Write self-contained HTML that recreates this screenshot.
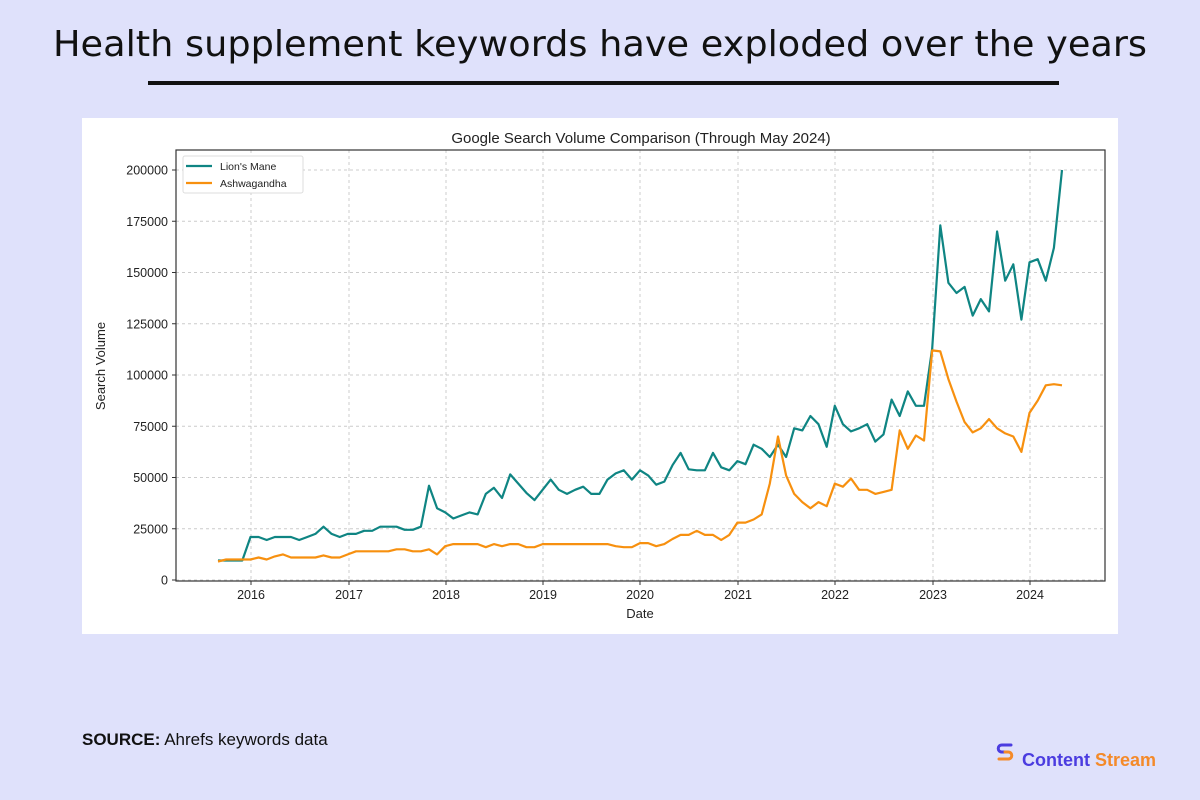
<!DOCTYPE html>
<html><head><meta charset="utf-8"><style>
html,body{margin:0;padding:0;background:#dfe1fb;}
svg{display:block}
text{font-family:"Liberation Sans","DejaVu Sans",sans-serif}
</style></head><body>
<svg id="s" width="1200" height="800" viewBox="0 0 1200 800" xmlns="http://www.w3.org/2000/svg">
<rect width="1200" height="800" fill="#dfe1fb"/>
<text x="600" y="56" text-anchor="middle" font-size="36" textLength="1094" lengthAdjust="spacingAndGlyphs" style="font-family:'DejaVu Sans',sans-serif" fill="#111">Health supplement keywords have exploded over the years</text>
<rect x="148" y="81" width="911" height="4" fill="#111"/>
<rect x="82" y="118" width="1036" height="516" fill="#fff"/>
<text x="641" y="143" text-anchor="middle" font-size="15" fill="#222">Google Search Volume Comparison (Through May 2024)</text>
<g id="grid" stroke="#ccc" stroke-dasharray="3,3" stroke-width="1"></g>
<rect x="176" y="150" width="929" height="431" fill="none" stroke="#333" stroke-width="1.2"/>
<g id="ticks" font-size="12.5" fill="#222"></g>
<text x="640" y="618" text-anchor="middle" font-size="13" fill="#222">Date</text>
<text transform="translate(105,366) rotate(-90)" text-anchor="middle" font-size="13" fill="#222">Search Volume</text>
<polyline id="lm" fill="none" stroke="#0f8583" stroke-width="2.2" stroke-linejoin="round"/>
<polyline id="as" fill="none" stroke="#f7900f" stroke-width="2.2" stroke-linejoin="round"/>
<rect x="183" y="156" width="120" height="37" fill="#fff" stroke="#ddd" rx="2"/>
<line x1="186" y1="166" x2="212" y2="166" stroke="#0f8583" stroke-width="2.2"/>
<line x1="186" y1="183" x2="212" y2="183" stroke="#f7900f" stroke-width="2.2"/>
<text x="220" y="170" font-size="10.5" fill="#222">Lion's Mane</text>
<text x="220" y="187" font-size="10.5" fill="#222">Ashwagandha</text>
<text x="82" y="745" font-size="17" fill="#111"><tspan font-weight="bold">SOURCE:</tspan> Ahrefs keywords data</text>
<g transform="translate(997,752)" fill="none" stroke-width="3" stroke-linecap="round">
<path d="M14,-7 L5,-7 C0,-7 0,0 5,0 L8,0" stroke="#4b3ce0"/>
<path d="M8,0 L11,0 C16,0 16,7 11,7 L2,7" stroke="#f48a2a"/>
</g>
<text x="1022" y="766" font-size="18" font-weight="bold" fill="#4b3ce0">Content <tspan fill="#f48a2a">Stream</tspan></text>
</svg>
<script>
var L=[9.5,9.5,9.5,9.5,21,21,19.5,21,21,21,19.5,21,22.5,26,22.5,21,22.5,22.5,24,24,26,26,26,24.5,24.5,26,46,35,33,30,31.5,33,32,42,45,40,51.5,47,42.5,39,44,49,44,42,44,45.5,42,42,49,52,53.5,49,53.5,51,46.5,48,56,62,54,53.5,53.5,62,55,53.5,58,56.5,66,64,60,66,60,74,73,80,76,65,85,76,72.5,74,76,67.5,71,88,80,92,85,85,113,173,145,140,143,129,137,131,170,146,154,127,155,156.5,146,162,200];
var A=[9,10,10,10,10,11,10,11.5,12.5,11,11,11,11,12,11,11,12.5,14,14,14,14,14,15,15,14,14,15,12.5,16.5,17.5,17.5,17.5,17.5,16,17.5,16.5,17.5,17.5,16,16,17.5,17.5,17.5,17.5,17.5,17.5,17.5,17.5,17.5,16.5,16,16,18,18,16.5,17.5,20,22,22,24,22,22,19.5,22,28,28,29.5,32,47,70,51,42,38,35,38,36,47,45.5,49.5,44,44,42,43,44,73,64,70.5,68,112,111.5,98,87,77,72,74,78.5,74,71.5,70,62.5,81.5,87.5,95,95.5,95];
function X(i){return 218+i*(1062-218)/104;}
function Y(v){return 580-v*410/200;}
function pts(a){return a.map(function(v,i){return X(i).toFixed(1)+","+Y(v).toFixed(1)}).join(" ");}
document.getElementById("lm").setAttribute("points",pts(L));
document.getElementById("as").setAttribute("points",pts(A));
var ns="http://www.w3.org/2000/svg",g=document.getElementById("grid"),t=document.getElementById("ticks");
function el(p,tag,at,txt){var e=document.createElementNS(ns,tag);for(var k in at)e.setAttribute(k,at[k]);if(txt)e.textContent=txt;p.appendChild(e);}
for(var k=0;k<=8;k++){var y=Y(k*25);el(g,"line",{x1:176,x2:1105,y1:y,y2:y});el(t,"line",{x1:172,x2:176,y1:y,y2:y,stroke:"#333"});el(t,"text",{x:168,y:y+4.5,"text-anchor":"end"},String(k*25000));}
var yx=[251,349,446,543,640,738,835,933,1030];
for(var k=0;k<9;k++){var x=yx[k];el(g,"line",{x1:x,x2:x,y1:150,y2:581});el(t,"line",{x1:x,x2:x,y1:581,y2:585,stroke:"#333"});el(t,"text",{x:x,y:599,"text-anchor":"middle"},String(2016+k));}
</script>
</body></html>
